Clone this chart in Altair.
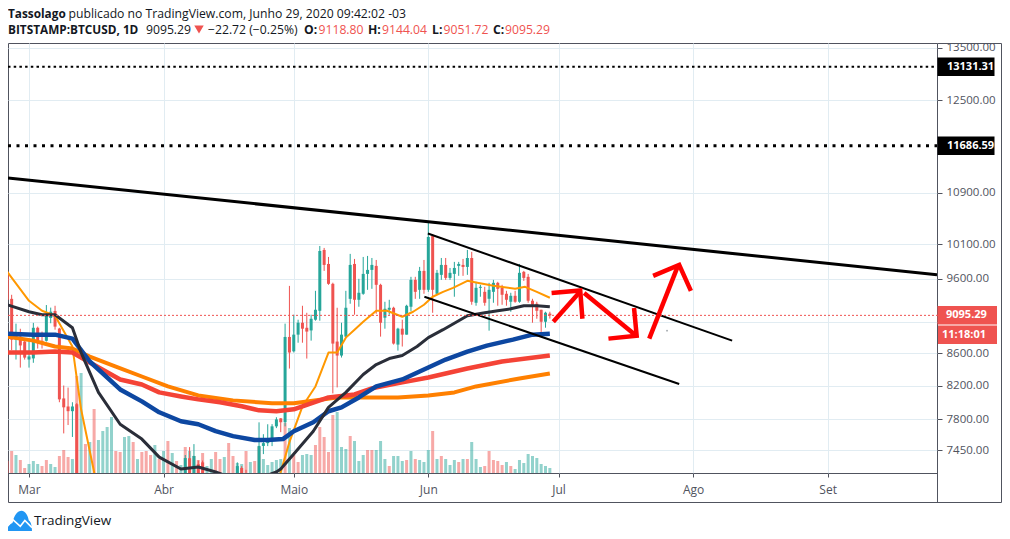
import altair as alt
import pandas as pd

# ---- candles: day = days since 2020-02-25 ----
cd_day = list(range(0, 17)) + [41, 42, 43, 44, 45, 53, 54, 55] + list(range(58, 126))
cd_open = [9699, 9320, 8775, 8815, 8750, 8521, 8535, 8930, 8760, 8760, 9060, 9155, 8920, 8045, 7950, 7895, 7975,
           7000, 7365, 7200, 7300, 7320, 7000, 7260, 7150,
           7130, 7500, 7531, 7576, 7720, 7812, 7767, 8810, 8625, 8840, 8997, 8930, 8895, 9037, 9157, 10018, 9813,
           9529, 8750, 8571, 8814, 9320, 9813, 9307, 9390, 9670, 9727, 9785, 9515, 9064, 9171, 9198, 8711, 8918,
           8840, 9212, 9585, 9445, 9713, 9445, 10226, 9390, 9656, 9799, 9613, 9670, 9785, 9799, 9770, 9900, 9266,
           9473, 9417, 9321, 9417, 9543, 9473, 9390, 9280, 9362, 9280, 9699, 9628, 9294, 9253, 9171, 9010, 9118.80]
cd_high = [9727, 9376, 8985, 8917, 8790, 8775, 8995, 8945, 8880, 9235, 9200, 9225, 8930, 8200, 8175, 8000, 7990,
           7400, 7487, 7520, 7340, 7340, 7320, 7280, 7240,
           7766, 7631, 7744, 7745, 7825, 7815, 8985, 9500, 9104, 9037, 9225, 9130, 9104, 9431, 10077, 10048, 9915,
           9545, 9198, 8997, 9431, 9960, 9886, 9600, 9915, 9930, 9900, 9871, 9530, 9280, 9307, 9212, 8930, 9037,
           9239, 9628, 9628, 9770, 9871, 10440, 10257, 9727, 9900, 9900, 9755, 9843, 9843, 9886, 10018, 9990, 9557,
           9515, 9487, 9543, 9585, 9557, 9515, 9431, 9404, 9431, 9813, 9713, 9670, 9321, 9280, 9171, 9144, 9144.04]
cd_low = [9270, 8640, 8521, 8420, 8520, 8420, 8480, 8660, 8660, 8750, 8990, 8905, 8000, 7640, 7735, 7600, 4700,
          6750, 7100, 7150, 7100, 6700, 6900, 7000, 6900,
          7100, 7410, 7498, 7498, 7700, 7654, 7720, 8408, 8610, 8735, 8735, 8533, 8762, 9024, 9024, 9713, 9515,
          8105, 8177, 8546, 8800, 9253, 9104, 9212, 9376, 9445, 9459, 9117, 8814, 8918, 9104, 8711, 8634, 8686,
          8840, 9150, 9320, 9320, 9390, 9417, 9130, 9376, 9585, 9585, 9585, 9349, 9642, 9642, 9656, 9239, 9226,
          9349, 9226, 8892, 9266, 9226, 9239, 9226, 9144, 9266, 9266, 9571, 9266, 8997, 9050, 8827, 8931, 9051.72]
cd_close = [9307, 8775, 8840, 8700, 8545, 8560, 8930, 8750, 8735, 9115, 9145, 8945, 8034, 7940, 7895, 7950, 4800,
            7367, 7200, 7390, 7150, 6860, 7280, 7100, 6900,
            7500, 7531, 7576, 7720, 7800, 7767, 8810, 8610, 8840, 8997, 8918, 8880, 9050, 9171, 10003, 9799, 9529,
            8724, 8571, 8840, 9198, 9799, 9307, 9404, 9670, 9727, 9799, 9515, 8997, 9184, 9198, 8724, 8918, 8840,
            9225, 9585, 9417, 9713, 9445, 10212, 9445, 9685, 9799, 9613, 9685, 9755, 9813, 9770, 9900, 9280, 9473,
            9487, 9266, 9445, 9543, 9459, 9376, 9307, 9362, 9280, 9685, 9613, 9294, 9239, 9157, 9010, 9131, 9095.29]

# ---- volume, one bar per day from day 0 ----
vol = [12, 22, 18, 13, 5, 9, 12, 9, 7, 13, 9, 6, 17, 23, 16, 14, 97, 100, 29, 31, 64, 33, 42, 46, 56, 22, 21, 36, 37,
       31, 14, 21, 22, 18, 28, 14, 22, 32, 20, 12, 8, 26, 22, 17, 13, 20, 7, 14, 21, 14, 16, 30, 17, 10, 9, 22, 11,
       12, 26, 14, 8, 11, 13, 14, 50, 45, 18, 11, 18, 19, 18, 28, 46, 36, 21, 58, 61, 26, 24, 37, 32, 12, 18, 23, 23,
       23, 32, 14, 7, 17, 17, 12, 13, 22, 14, 13, 11, 23, 42, 14, 17, 14, 8, 13, 11, 14, 14, 31, 14, 6, 7, 22, 13, 12,
       8, 11, 7, 4, 13, 10, 19, 17, 15, 9, 7, 5]
vol_dir = list("rrgrrgggrrggrrrgrgrgrgggg" "rrggrgrrrgrgrgrgrgrrrggrrgrrggrg" "rrgggg" "grgrr" "gggrr" "rrrgggrgggrr"
               "gggrgggrgrgggrgrgggrgrgggrrrrrgr")
vol_dir = (vol_dir + ["g"] * 126)[:126]

# ---- moving averages (day, price) ----
ema_thin_day = [0, 5, 8, 11, 15, 17, 20, 24, 40, 60, 63, 65, 68, 71, 74, 76, 78, 80, 82, 85, 87.5, 91, 93.5, 96, 98,
                100.4, 102.7, 106, 108.3, 112, 117, 119.3, 122, 125]
ema_thin = [9699, 9293, 9157, 9090, 8686, 7917, 7217, 5900, 6000, 6800, 7217, 7542, 7952, 8189, 8609, 8609, 8801, 8905,
            9010, 9157, 9157, 9077, 9144, 9239, 9349, 9417, 9473, 9571, 9543, 9501, 9459, 9487, 9417, 9335]
ma_dark_day = [0, 5, 8, 11, 15, 17, 21, 26, 31, 35, 40, 44, 48, 55, 62, 63, 66, 70.5, 74, 78, 82, 85, 88, 91, 94.4, 97,
               100.4, 106, 110, 113, 116, 119, 122, 125]
ma_dark = [9239, 9144, 9104, 9104, 8931, 8609, 8117, 7744, 7576, 7377, 7249, 7270, 7217, 7100, 7217, 7249, 7410, 7665,
           7940, 8117, 8335, 8458, 8533, 8571, 8686, 8801, 8905, 9090, 9130, 9157, 9184, 9226, 9226, 9212]
ma_blue_day = [0, 6, 11, 15, 19, 26, 31, 35, 40, 44, 48, 52, 57, 60, 63.5, 66, 70.5, 74, 77, 81, 85, 91, 97, 101, 106,
               110.5, 116.5, 121, 125]
ma_blue = [8853, 8840, 8840, 8788, 8496, 8153, 8010, 7882, 7778, 7744, 7665, 7609, 7565, 7565, 7576, 7665, 7767, 7894,
           7940, 8057, 8189, 8274, 8421, 8521, 8622, 8698, 8775, 8840, 8853]
ma_red_day = [0, 6, 11, 15, 19, 26, 31, 35, 40, 44, 49, 54, 58, 62, 66, 68, 74, 80, 84, 91, 97, 106, 114, 125]
ma_red = [8609, 8609, 8622, 8609, 8483, 8274, 8213, 8117, 8069, 8034, 7999, 7952, 7905, 7894, 7917, 7952, 8057, 8093,
          8165, 8238, 8298, 8408, 8496, 8571]
ma_orange_day = [0, 6, 11, 15, 19, 25, 31, 37, 44, 52, 61, 66, 76, 84, 90, 97, 103, 108, 118, 125]
ma_orange = [8814, 8762, 8686, 8660, 8559, 8433, 8310, 8189, 8081, 8022, 7987, 7987, 8057, 8057, 8057, 8081, 8117,
             8189, 8286, 8347]

# ---- drawings ----
trend_day = [0.16, 214.2, 96.9, 167, 96.1, 154.8]
trend_price = [11142, 9656, 10265, 8762, 9349, 8219]
trend_group = ["long", "long", "upper", "upper", "lower", "lower"]
arrow_group = ["a1", "a1", "a1h", "a1h", "a1h", "a2", "a2", "a2h", "a2h", "a2h", "a3", "a3", "a3h", "a3h", "a3h"]
arrow_day = [125.8, 132, 125.4, 132, 132.5, 132.9, 144.9, 144.4, 145, 138.5, 147.9, 154.6, 148.8, 154.8, 157.5]
arrow_price = [9010, 9420, 9400, 9435, 9050, 9400, 8827, 9194, 8827, 8788, 8788, 9799, 9642, 9799, 9431]

level_price = [13131.31, 11686.59]
last_price = 9095.29
countdown_anchor = 8840
price_ticks = [13500, 12500, 10900, 10100, 9600, 9000, 8600, 8200, 7800, 7450]
month_days = [5, 36, 66, 97, 127, 158, 189]
month_names = ["Mar", "Abr", "Maio", "Jun", "Jul", "Ago", "Set"]

UP, DOWN = "#26a69a", "#ef5350"
GRID, AXIS, TXT = "#e1ecf2", "#50535e", "#131722"
FONT = "Open Sans"
W, H = 929, 430
RIGHT_EDGE = 993.5

xs = alt.Scale(domain=[0.16, 214.2], nice=False, zero=False, padding=0)
ys = alt.Scale(type="log", domain=[7206, 13600], nice=False)
X = alt.X("day:Q", scale=xs, axis=None)
Y = alt.Y("price:Q", scale=ys, axis=None)
dir_color = alt.Color("dir:N", scale=alt.Scale(domain=["g", "r"], range=[UP, DOWN]), legend=None)

cd = pd.DataFrame({"day": cd_day, "open": cd_open, "high": cd_high, "low": cd_low, "close": cd_close})
cd["dir"] = ["g" if c >= o else "r" for o, c in zip(cd_open, cd_close)]
vd = pd.DataFrame({"day": list(range(len(vol))), "vol": vol, "dir": vol_dir})

# the 9000.00 label lies behind the red price boxes in the reference, so only its grid line and tick remain
price_axis = alt.Axis(orient="right", values=price_ticks, labelExpr="datum.value == 9000 ? '' : format(datum.value, '.2f')",
                      grid=True, gridColor=GRID, gridWidth=1,
                      tickColor=AXIS, tickSize=5, domain=False, labelColor=AXIS, labelFont=FONT, labelFontSize=11.5,
                      labelPadding=4, labelOverlap=False, labelFlush=False, title=None)
month_expr = "[" + ",".join(f"'{m}'" for m in month_names) + "][indexof([" + ",".join(map(str, month_days)) + "],datum.value)]"
x_axis = alt.Axis(orient="bottom", values=month_days, labelExpr=month_expr, grid=True, gridColor=GRID, gridWidth=1,
                  tickColor=AXIS, tickSize=4, domain=False, labelColor=AXIS, labelFont=FONT, labelFontSize=12,
                  labelPadding=7, labelOverlap=False, labelFlush=False, title=None)

# invisible carrier of the two axes, drawn first so the grid lies under everything
axes_layer = alt.Chart(pd.DataFrame({"day": [month_days[0]], "price": [price_ticks[0]]})).mark_point(opacity=0).encode(
    x=alt.X("day:Q", scale=xs, axis=x_axis), y=alt.Y("price:Q", scale=ys, axis=price_axis))

lvl_a = alt.Chart(pd.DataFrame({"price": level_price[:1]})).mark_rule(
    color="#000000", strokeWidth=2.2, strokeDash=[2.5, 3.2]).encode(y=Y, x=alt.value(0), x2=alt.value(W))
lvl_b = alt.Chart(pd.DataFrame({"price": level_price[1:]})).mark_rule(
    color="#000000", strokeWidth=3, strokeDash=[3, 5.5]).encode(y=Y, x=alt.value(0), x2=alt.value(W))

volume = alt.Chart(vd).mark_bar(size=3, opacity=0.5, clip=True).encode(
    x=X,
    y=alt.Y("vol:Q", scale=alt.Scale(domain=[0, H], nice=False), axis=None),
    color=dir_color)

wicks = alt.Chart(cd).mark_rule(strokeWidth=1, clip=True).encode(
    x=X, y=alt.Y("high:Q", scale=ys, axis=None), y2="low:Q", color=dir_color)
bodies = alt.Chart(cd).mark_bar(size=3, orient="vertical", clip=True).encode(
    x=X, y=alt.Y("open:Q", scale=ys, axis=None), y2="close:Q", color=dir_color)


def line(days, prices, color, width):
    df = pd.DataFrame({"day": days, "price": prices})
    return alt.Chart(df).mark_line(color=color, strokeWidth=width, clip=True, strokeJoin="round").encode(x=X, y=Y)


ma_layers = [
    line(ema_thin_day, ema_thin, "#ff9800", 2),
    line(ma_orange_day, ma_orange, "#ff8000", 4),
    line(ma_red_day, ma_red, "#f44336", 4.5),
    line(ma_blue_day, ma_blue, "#0d47a1", 4.5),
    line(ma_dark_day, ma_dark, "#2a2e39", 3),
]

tr = pd.DataFrame({"day": trend_day, "price": trend_price, "g": trend_group})
tr_long = alt.Chart(tr[tr.g == "long"]).mark_line(color="#000000", strokeWidth=3, clip=True).encode(x=X, y=Y)
tr_thin = alt.Chart(tr[tr.g != "long"]).mark_line(color="#000000", strokeWidth=2, clip=True).encode(
    x=X, y=Y, detail="g:N")

ar = pd.DataFrame({"day": arrow_day, "price": arrow_price, "g": arrow_group, "n": range(len(arrow_day))})
arrows = alt.Chart(ar).mark_line(color="#ff0000", strokeWidth=4.5, strokeJoin="miter", clip=True).encode(
    x=X, y=Y, detail="g:N", order=alt.Order("n:Q"))
speck = alt.Chart(pd.DataFrame({"day": [152], "price": [8892]})).mark_point(
    filled=True, size=3, color="#9aa0a6", opacity=1).encode(x=X, y=Y)

last_line = alt.Chart(pd.DataFrame({"price": [last_price]})).mark_rule(
    color=DOWN, strokeWidth=1, strokeDash=[2, 2]).encode(y=Y, x=alt.value(0), x2=alt.value(W + 5))


def box(price, color, x1, x2, height=18.5):
    return alt.Chart(pd.DataFrame({"price": [price]})).mark_rule(color=color, strokeWidth=height).encode(
        y=Y, x=alt.value(x1), x2=alt.value(x2))


def box_text(price, label, x):
    return alt.Chart(pd.DataFrame({"price": [price], "t": [label]})).mark_text(
        color="#ffffff", fontWeight="bold", font=FONT, fontSize=11, align="left", baseline="middle").encode(
        y=Y, x=alt.value(x), text="t:N")


def label(t, x, y, color=TXT, weight="normal", size=12.2):
    return alt.Chart(pd.DataFrame({"t": [t]})).mark_text(
        color=color, fontWeight=weight, font=FONT, fontSize=size, align="left", baseline="middle").encode(
        x=alt.value(x), y=alt.value(y), text="t:N")


boxes = [
    box(level_price[0], "#000000", W + 0.5, W + 57.5), box_text(level_price[0], f"{level_price[0]:.2f}", W + 10),
    box(level_price[1], "#000000", W + 0.5, W + 57.5), box_text(level_price[1], f"{level_price[1]:.2f}", W + 10),
    box(last_price, DOWN, W + 0.5, W + 60), box_text(last_price, f"{last_price:.2f}", W + 9),
    box(countdown_anchor, DOWN, W + 1, W + 60), box_text(countdown_anchor, "11:18:01", W + 5),
]

frame = [
    alt.Chart(pd.DataFrame({"a": [0]})).mark_rule(color=AXIS, strokeWidth=1).encode(
        x=alt.value(W + 0.5), x2=alt.value(RIGHT_EDGE), y=alt.value(0.5)),
    alt.Chart(pd.DataFrame({"a": [0]})).mark_rule(color=AXIS, strokeWidth=1).encode(
        x=alt.value(0.5), x2=alt.value(RIGHT_EDGE), y=alt.value(459.5)),
    alt.Chart(pd.DataFrame({"a": [0]})).mark_rule(color=AXIS, strokeWidth=1).encode(
        x=alt.value(RIGHT_EDGE), y=alt.value(0.5), y2=alt.value(459.5)),
    alt.Chart(pd.DataFrame({"a": [0]})).mark_rule(color=AXIS, strokeWidth=1).encode(
        x=alt.value(W + 0.5), y=alt.value(H), y2=alt.value(459.5)),
    alt.Chart(pd.DataFrame({"a": [0]})).mark_rule(color=AXIS, strokeWidth=1).encode(
        x=alt.value(0.5), y=alt.value(H), y2=alt.value(459.5)),
]

GY1, GY2 = -29.5, -13.5
RED = "#ef5350"
header = [
    label("Tassolago", 0, GY1, weight="bold", size=11.8),
    label("publicado no TradingView.com, Junho 29, 2020 09:42:02 -03", 60.5, GY1),
    label("BITSTAMP:BTCUSD, 1D", 0, GY2, weight="bold", size=11.8),
    label("9095.29", 138, GY2),
    label("\u221222.72 (\u22120.25%)", 200, GY2),
    label("O:", 296, GY2, weight="bold"), label("9118.80", 310.5, GY2, color=RED),
    label("H:", 360, GY2, weight="bold"), label("9144.04", 374, GY2, color=RED),
    label("L:", 424, GY2, weight="bold"), label("9051.72", 435.5, GY2, color=RED),
    label("C:", 485, GY2, weight="bold"), label("9095.29", 497, GY2, color=RED),
    alt.Chart(pd.DataFrame({"a": [0]})).mark_point(shape="triangle-down", filled=True, size=90, color=RED, opacity=1).encode(
        x=alt.value(191), y=alt.value(GY2)),
]

logo_path = "M-1,0.9C-1,0.55 -0.75,0.3 -0.5,0.2C-0.4,-0.4 -0.1,-0.75 0.2,-0.75C0.5,-0.75 0.7,-0.35 0.75,0C0.95,0.1 1,0.5 1,0.9Z"
zig_path = "M-1,0.55L-0.45,-0.05L0.1,0.45L0.45,0L1,0.55"
logo = [
    alt.Chart(pd.DataFrame({"a": [0]})).mark_point(shape=logo_path, filled=True, size=676, color="#2196f3", opacity=1).encode(
        x=alt.value(11), y=alt.value(477.5)),
    alt.Chart(pd.DataFrame({"a": [0]})).mark_point(shape=zig_path, filled=False, size=676, stroke="#ffffff", strokeWidth=1.6, opacity=1).encode(
        x=alt.value(11), y=alt.value(477.5)),
    label("TradingView", 26, 478, size=13.5),
]

chart = alt.layer(
    axes_layer, volume, lvl_a, lvl_b, wicks, bodies, *ma_layers, tr_long, tr_thin, last_line, arrows, speck,
    *boxes, *frame, *header, *logo
).resolve_scale(y="independent").resolve_axis(x="independent", y="independent").properties(
    width=W, height=H,
    padding={"left": 0, "top": 35, "right": 65, "bottom": 58},
    autosize=alt.AutoSizeParams(type="none"),
    background="#ffffff",
).configure_view(stroke=AXIS, strokeWidth=1)

chart.save("out.html", embed_options={"renderer": "svg", "actions": False})
